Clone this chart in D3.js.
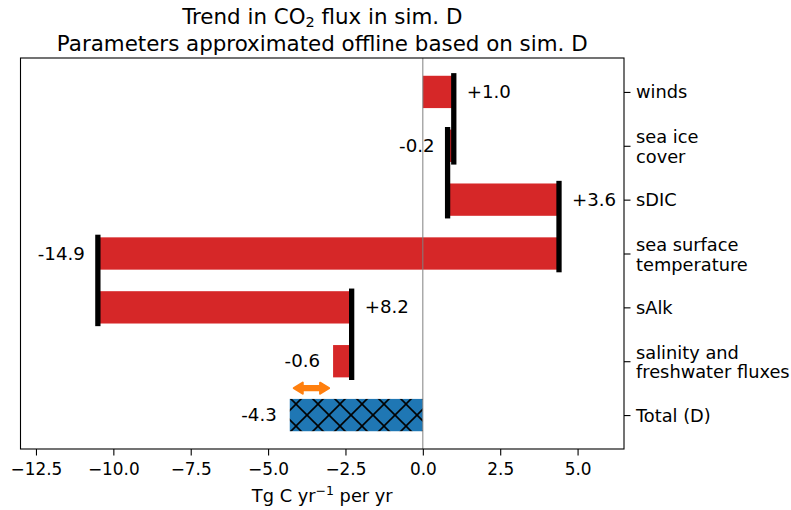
<!DOCTYPE html>
<html>
<head>
<meta charset="utf-8">
<script src="https://cdn.jsdelivr.net/npm/d3@7"></script>
<style>
  html, body { margin: 0; padding: 0; background: #ffffff; }
  svg { display: block; font-family: "DejaVu Sans", sans-serif; }
</style>
</head>
<body>
<svg id="chart" width="791" height="510"></svg>
<script>
// Contributions to the CO2 flux trend (Tg C yr^-1 per yr), drawn as a waterfall
const categories = ["winds", "sea ice\ncover", "sDIC", "sea surface\ntemperature", "sAlk", "salinity and\nfreshwater fluxes", "Total (D)"];
const contributions = [1.0, -0.2, 3.6, -14.9, 8.2, -0.6];
const totalValue = -4.3;
const valueLabels = ["+1.0", "-0.2", "+3.6", "-14.9", "+8.2", "-0.6", "-4.3"];
const xTickValues = [-12.5, -10.0, -7.5, -5.0, -2.5, 0.0, 2.5, 5.0];
const xDomain = [-13, 6.5];

const svg = d3.select("#chart");
const plotL = 20.5, plotR = 624, plotT = 58, plotB = 449;
const labelSize = 17.8;

const x = d3.scaleLinear().domain(xDomain).range([plotL, plotR]);
const barH = 0.6;
const y = d3.scaleLinear().domain([-0.63, 6.63]).range([plotT, plotB]);

// cumulative start / end of each step
let running = 0;
const steps = contributions.map((v, i) => {
  const s = running; running += v;
  return { i, start: s, end: running, value: v, label: valueLabels[i] };
});
const sumOfParts = running;
const totalStep = { i: contributions.length, start: 0, end: totalValue, value: totalValue, label: valueLabels[contributions.length] };

// hatch pattern for the total bar
const defs = svg.append("defs");
const tile = 22;
const pat = defs.append("pattern")
  .attr("id", "xhatch").attr("patternUnits", "userSpaceOnUse")
  .attr("width", tile).attr("height", tile)
  .attr("x", 296).attr("y", y(6) - tile / 2);
pat.append("rect").attr("width", tile).attr("height", tile).attr("fill", "#1f77b4");
[[-tile, -tile, 2 * tile, 2 * tile], [-tile, 2 * tile, 2 * tile, -tile]].forEach(d => {
  pat.append("line").attr("x1", d[0]).attr("y1", d[1]).attr("x2", d[2]).attr("y2", d[3])
    .attr("stroke", "#000").attr("stroke-width", 1.6);
});

const g = svg.append("g");

// red step bars
g.selectAll("rect.step").data(steps).enter().append("rect")
  .attr("class", "step")
  .attr("x", d => x(Math.min(d.start, d.end)))
  .attr("width", d => Math.abs(x(d.end) - x(d.start)))
  .attr("y", d => y(d.i - barH / 2))
  .attr("height", d => y(d.i + barH / 2) - y(d.i - barH / 2))
  .attr("fill", "#d62728");

// total bar
g.append("rect")
  .attr("x", x(Math.min(0, totalValue)))
  .attr("width", Math.abs(x(totalValue) - x(0)))
  .attr("y", y(totalStep.i - barH / 2))
  .attr("height", y(totalStep.i + barH / 2) - y(totalStep.i - barH / 2))
  .attr("fill", "url(#xhatch)");

// zero line
g.append("line")
  .attr("x1", x(0)).attr("x2", x(0)).attr("y1", plotT).attr("y2", plotB)
  .attr("stroke", "#808080").attr("stroke-width", 1);

// connectors between consecutive steps (none into the total bar)
g.selectAll("line.conn").data(steps.slice(0, steps.length - 1)).enter().append("line")
  .attr("class", "conn")
  .attr("x1", d => x(d.end)).attr("x2", d => x(d.end))
  .attr("y1", d => y(d.i - barH / 2)).attr("y2", d => y(d.i + 1 + barH / 2))
  .attr("stroke", "#000").attr("stroke-width", 5.3).attr("stroke-linecap", "square");

// value labels
const labelData = steps.concat([totalStep]);
g.selectAll("text.val").data(labelData).enter().append("text")
  .attr("class", "val")
  .attr("x", d => d.value >= 0 ? x(d.end) + 13 : x(d.end) - 13)
  .attr("y", d => y(d.i) + 6)
  .attr("text-anchor", d => d.value >= 0 ? "start" : "end")
  .attr("font-size", 18.2).attr("fill", "#000")
  .text(d => d.label);

// double-headed arrow: gap between summed parts and the total
(function () {
  const ay = y(5.5);
  const x1 = x(totalValue) + 4, x2 = x(sumOfParts) - 4;
  const hl = 9, hw = 5.5, sw = 2.2;
  const pts = [
    [x1, ay], [x1 + hl, ay - hw], [x1 + hl, ay - sw], [x2 - hl, ay - sw], [x2 - hl, ay - hw],
    [x2, ay], [x2 - hl, ay + hw], [x2 - hl, ay + sw], [x1 + hl, ay + sw], [x1 + hl, ay + hw]
  ];
  g.append("path")
    .attr("d", d3.line()(pts) + "Z")
    .attr("fill", "#ff7f0e").attr("stroke", "#ff7f0e")
    .attr("stroke-width", 2).attr("stroke-linejoin", "round");
})();

// frame
svg.append("rect")
  .attr("x", plotL).attr("y", plotT).attr("width", plotR - plotL).attr("height", plotB - plotT)
  .attr("fill", "none").attr("stroke", "#000").attr("stroke-width", 1.1);

// bottom axis
const xAxis = d3.axisBottom(x).tickValues(xTickValues).tickSize(6.5).tickPadding(5)
  .tickFormat(d => d3.format(".1f")(d).replace("-", "\u2212"));
const xg = svg.append("g").attr("transform", `translate(0,${plotB})`).call(xAxis);
xg.select(".domain").remove();
xg.selectAll(".tick line").attr("stroke", "#000").attr("stroke-width", 1.1);
xg.selectAll(".tick text").attr("font-size", 16.9).attr("font-family", "DejaVu Sans").attr("fill", "#000")
  .attr("dy", null).attr("y", 26);

// right axis with category labels
const yAxis = d3.axisRight(y).tickValues(d3.range(categories.length)).tickSize(6.5).tickFormat("");
const yg = svg.append("g").attr("transform", `translate(${plotR},0)`).call(yAxis);
yg.select(".domain").remove();
yg.selectAll(".tick line").attr("stroke", "#000").attr("stroke-width", 1.1);

categories.forEach((c, i) => {
  const lines = c.split("\n");
  const cy = y(i);
  const t = svg.append("text").attr("x", plotR + 12).attr("font-size", labelSize).attr("fill", "#000");
  if (lines.length === 1) {
    t.attr("y", cy + 6.5).text(lines[0]);
  } else {
    lines.forEach((ln, k) => {
      t.append("tspan").attr("x", plotR + 12).attr("y", cy - 2.5 + k * 19.5).text(ln);
    });
  }
});

// x label
const xl = svg.append("text")
  .attr("x", (plotL + plotR) / 2).attr("y", 502).attr("text-anchor", "middle")
  .attr("font-size", labelSize).attr("fill", "#000");
xl.append("tspan").text("Tg C yr");
xl.append("tspan").attr("font-size", 12.5).attr("dy", -7).text("\u22121");
xl.append("tspan").attr("dy", 7).text(" per yr");

// title
const cx = (plotL + plotR) / 2;
const t1 = svg.append("text").attr("x", cx).attr("y", 23.5).attr("text-anchor", "middle")
  .attr("font-size", 21.4).attr("fill", "#000");
t1.append("tspan").text("Trend in CO");
t1.append("tspan").attr("font-size", 14.5).attr("dy", 3).text("2");
t1.append("tspan").attr("dy", -3).text(" flux in sim. D");
svg.append("text").attr("x", cx).attr("y", 50.5).attr("text-anchor", "middle")
  .attr("font-size", 21.4).attr("fill", "#000")
  .text("Parameters approximated offline based on sim. D");
</script>
</body>
</html>
